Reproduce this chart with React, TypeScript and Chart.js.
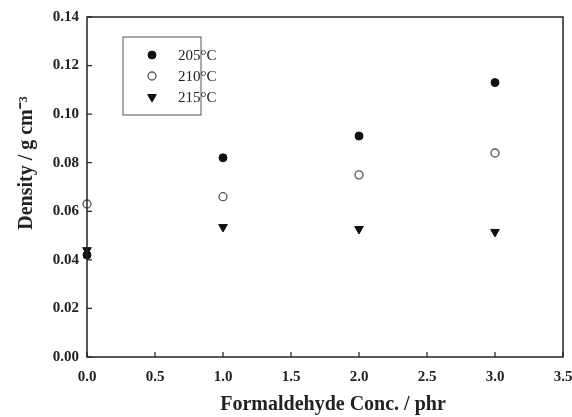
import React, { useEffect, useRef } from "react";
import { Chart, registerables } from "chart.js";
import { drawPoint } from "chart.js/helpers";

Chart.register(...registerables);

const concentrations = [0, 1, 2, 3];
const density205 = [0.042, 0.082, 0.091, 0.113];
const density210 = [0.063, 0.066, 0.075, 0.084];
const density215 = [0.044, 0.0535, 0.0527, 0.0515];
const seriesLabels = ["205°C", "210°C", "215°C"];
const xTicks = [0, 0.5, 1, 1.5, 2, 2.5, 3, 3.5];
const yTicks = [0, 0.02, 0.04, 0.06, 0.08, 0.1, 0.12, 0.14];
const xTitle = "Formaldehyde Conc. / phr";
const yTitle = "Density / g cm⁻³";

const SERIF = "'Liberation Serif', 'Times New Roman', serif";

const framePlugin = {
  id: "frame",
  afterDatasetsDraw(chart: any) {
    const { ctx, chartArea, scales } = chart;
    const { left, right, top, bottom } = chartArea;
    ctx.save();
    ctx.strokeStyle = "#222";
    ctx.lineWidth = 1.5;
    ctx.strokeRect(left, top, right - left, bottom - top);
    ctx.lineWidth = 1.2;
    ctx.beginPath();
    xTicks.forEach((v) => {
      const px = scales.x.getPixelForValue(v);
      ctx.moveTo(px, bottom);
      ctx.lineTo(px, bottom - 5);
    });
    yTicks.forEach((v) => {
      const py = scales.y.getPixelForValue(v);
      ctx.moveTo(left, py);
      ctx.lineTo(left + 5, py);
    });
    ctx.stroke();

    // axis titles
    ctx.fillStyle = "#222";
    ctx.font = `bold 20px ${SERIF}`;
    ctx.textAlign = "center";
    ctx.textBaseline = "middle";
    ctx.fillText(xTitle, left + (right - left) / 2 + 8, bottom + 48);
    ctx.save();
    ctx.translate(left - 60, top + 146);
    ctx.rotate(-Math.PI / 2);
    ctx.fillText(yTitle, 0, 0);
    ctx.restore();

    // legend box
    const bx = left + 36;
    const by = top + 20;
    const bw = 78;
    const bh = 78;
    ctx.lineWidth = 1;
    ctx.strokeStyle = "#555";
    ctx.strokeRect(bx, by, bw, bh);
    ctx.font = `15px ${SERIF}`;
    ctx.textBaseline = "middle";
    ctx.textAlign = "left";
    chart.data.datasets.forEach((ds: any, i: number) => {
      const cy = by + 18 + i * 21;
      const cx = bx + 29;
      ctx.save();
      ctx.fillStyle = ds.pointBackgroundColor;
      ctx.strokeStyle = ds.pointBorderColor;
      ctx.lineWidth = ds.pointBorderWidth;
      drawPoint(ctx, {
        pointStyle: ds.pointStyle,
        rotation: ds.pointRotation || 0,
        radius: ds.pointRadius,
        borderWidth: ds.pointBorderWidth,
      } as any, cx, cy);
      ctx.restore();
      ctx.fillStyle = "#222";
      ctx.fillText(ds.label, bx + 55, cy + 1);
    });
    ctx.restore();
  },
};

export default function App() {
  const ref = useRef<HTMLCanvasElement>(null);
  useEffect(() => {
    if (!ref.current) return;
    const mk = (ys: number[]) => concentrations.map((x, i) => ({ x, y: ys[i] }));
    const chart = new Chart(ref.current, {
      type: "scatter",
      data: {
        datasets: [
          {
            label: seriesLabels[0],
            data: mk(density205),
            pointStyle: "circle",
            pointRadius: 4,
            pointBackgroundColor: "#111",
            pointBorderColor: "#111",
            pointBorderWidth: 1,
          },
          {
            label: seriesLabels[1],
            data: mk(density210),
            pointStyle: "circle",
            pointRadius: 4,
            pointBackgroundColor: "#fff",
            pointBorderColor: "#555",
            pointBorderWidth: 1.3,
          },
          {
            label: seriesLabels[2],
            data: mk(density215),
            pointStyle: "triangle",
            pointRotation: 180,
            pointRadius: 5,
            pointBackgroundColor: "#111",
            pointBorderColor: "#111",
            pointBorderWidth: 1,
          },
        ] as any,
      },
      options: {
        animation: false,
        responsive: false,
        clip: false as any,
        layout: { padding: { left: 0, top: 17, right: 9, bottom: 0 } },
        plugins: { legend: { display: false }, tooltip: { enabled: false } },
        scales: {
          x: {
            type: "linear",
            min: 0,
            max: 3.5,
            afterFit: (s: any) => {
              s.height = 60;
              s.paddingLeft = 0;
              s.paddingRight = 0;
            },
            afterBuildTicks: (s: any) => { s.ticks = xTicks.map((v) => ({ value: v })); },
            grid: { display: false, drawTicks: false },
            border: { display: false },
            ticks: {
              padding: 11,
              color: "#222",
              font: { family: SERIF, size: 15, weight: "bold" },
              callback: (v: any) => Number(v).toFixed(1),
            },
          },
          y: {
            type: "linear",
            min: 0,
            max: 0.14,
            afterFit: (s: any) => {
              s.width = 87;
              s.paddingTop = 0;
              s.paddingBottom = 0;
            },
            afterBuildTicks: (s: any) => { s.ticks = yTicks.map((v) => ({ value: v })); },
            grid: { display: false, drawTicks: false },
            border: { display: false },
            ticks: {
              padding: 8,
              color: "#222",
              font: { family: SERIF, size: 15, weight: "bold" },
              callback: (v: any) => Number(v).toFixed(2),
            },
          },
        },
      },
      plugins: [framePlugin],
    });
    return () => chart.destroy();
  }, []);
  return (
    <div style={{ position: "fixed", left: 0, top: 0, width: 572, height: 417, background: "#fff" }}>
      <canvas ref={ref} width={572} height={417} style={{ width: 572, height: 417 }} />
    </div>
  );
}
